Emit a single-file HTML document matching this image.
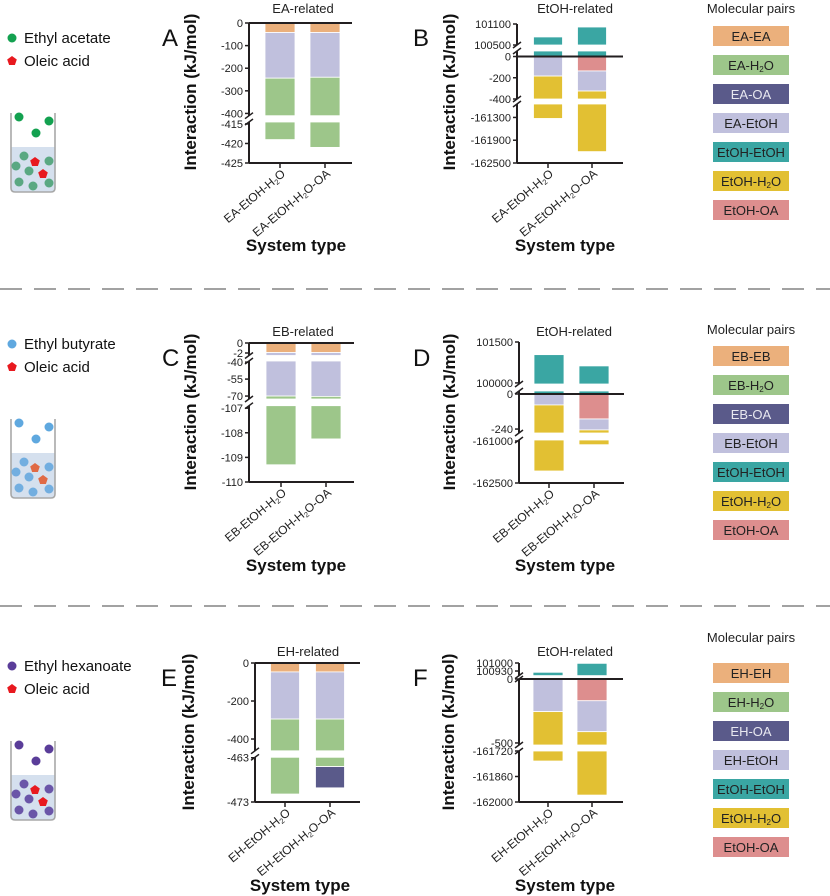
<!DOCTYPE html>
<html><head><meta charset="utf-8"><style>
body{margin:0;background:#fff}
svg{display:block;font-family:"Liberation Sans",Arial,sans-serif}
</style></head><body>
<svg id="fig" width="830" height="896" viewBox="0 0 830 896" xmlns="http://www.w3.org/2000/svg"></svg>
<script>
// ---------- DATA ----------
const catsA = ['EA-EtOH-H2O','EA-EtOH-H2O-OA'];
const A_EA_EA = [-42,-42];
const A_EA_EtOH = [-202,-198];
const A_EA_H2O = [-175,-181];
const ticksA = [0,-100,-200,-300,-400,-415,-420,-425];

const B_EtOH_EtOH = [100730,101014];
const B_EtOH_OA = [0,-136];
const B_EA_EtOH = [-184,-189];
const B_EtOH_H2O = [-161143,-161875];
const ticksB = [101100,100500,0,-200,-400,-161300,-161900,-162500];

const catsC = ['EB-EtOH-H2O','EB-EtOH-H2O-OA'];
const C_EB_EB = [-1.9,-1.9];
const C_EB_EtOH = [-68.1,-68.4];
const C_EB_H2O = [-39.3,-37.95];
const ticksC = [0,-2,-40,-55,-70,-107,-108,-109,-110];

const D_EtOH_EtOH = [101036,100623];
const D_EtOH_OA = [0,-171];
const D_EB_EtOH = [-75,-75];
const D_EtOH_H2O = [-161996,-160886];
const ticksD = [101500,100000,0,-240,-161000,-162500];

const catsE = ['EH-EtOH-H2O','EH-EtOH-H2O-OA'];
const E_EH_EH = [-47,-47];
const E_EH_EtOH = [-248,-248];
const E_EH_H2O = [-176.2,-170];
const E_EH_OA = [0,-4.8];
const ticksE = [0,-200,-400,-463,-473];

const F_EtOH_EtOH = [100919,100997];
const F_EtOH_OA = [0,-170];
const F_EH_EtOH = [-255,-242];
const F_EtOH_H2O = [-161520,-161550];
const ticksF = [101000,100930,0,-500,-161720,-161860,-162000];

const C_OR='#EBB07C',C_GR='#9DC68A',C_NV='#5A5A8A',C_LV='#C0C0DD',C_TL='#3AA6A3',C_YL='#E2C033',C_RD='#DD8E8E';

const NS='http://www.w3.org/2000/svg';
const svg=document.getElementById('fig');
function mk(tag,attrs,parent){const e=document.createElementNS(NS,tag);for(const k in attrs)e.setAttribute(k,attrs[k]);(parent||svg).appendChild(e);return e;}
function subText(el,str){ // H2O subscript
  const parts=str.split('H2O');
  parts.forEach((p,i)=>{
    if(p){const t=document.createElementNS(NS,'tspan');t.textContent=p;el.appendChild(t);}
    if(i<parts.length-1){
      const h=document.createElementNS(NS,'tspan');h.textContent='H';el.appendChild(h);
      const s=document.createElementNS(NS,'tspan');s.setAttribute('font-size','0.62em');s.setAttribute('dy','2');s.textContent='2';el.appendChild(s);
      const o=document.createElementNS(NS,'tspan');o.setAttribute('dy','-2');o.textContent='O';el.appendChild(o);
    }
  });
}

function panel(cfg){
  const g=mk('g',{});
  
  
  const segs=cfg.segs;
  function yOf(v){
    for(const s of segs){ if(v>=s.lo-1e-6 && v<=s.hi+1e-6) return s.top+(s.hi-v)/(s.hi-s.lo)*(s.bot-s.top); }
    return null;
  }
  // bars
  cfg.cats.forEach((c,ci)=>{
    let pos=0,neg=0;
    cfg.series.forEach(se=>{
      const v=se.vals[ci]; if(!v) return;
      let a,b;
      if(v>0){b=pos;a=pos+v;pos=a;} else {a=neg;b=neg+v;neg=b;}
      segs.forEach(s=>{
        const hi=Math.min(a,s.hi),lo=Math.max(b,s.lo);
        if(hi>lo){
          const y1=s.top+(s.hi-hi)/(s.hi-s.lo)*(s.bot-s.top);
          const y2=s.top+(s.hi-lo)/(s.hi-s.lo)*(s.bot-s.top);
          const r=mk('rect',{x:cfg.centers[ci]-cfg.bw/2,y:y1,width:cfg.bw,height:Math.max(0.5,y2-y1),fill:se.color,stroke:'#fff','stroke-width':0.8},g);
          
          
        }
      });
    });
  });
  const ax=cfg.ax, col='#231f20';
  // axis segments
  segs.forEach((s,i)=>{
    mk('line',{x1:ax,y1:s.top,x2:ax,y2:s.bot,stroke:col,'stroke-width':2},g);
    if(i<segs.length-1){
      const y1=s.bot,y2=segs[i+1].top;
      mk('line',{x1:ax-4,y1:y1+3,x2:ax+4,y2:y1-3,stroke:col,'stroke-width':1.5},g);
      mk('line',{x1:ax-4,y1:y2+3,x2:ax+4,y2:y2-3,stroke:col,'stroke-width':1.5},g);
    }
  });
  const xb=segs[segs.length-1].bot;
  const xa=mk('line',{x1:ax,y1:xb,x2:cfg.xEnd,y2:xb,stroke:col,'stroke-width':2},g);
  
  const y0=yOf(0);
  const zl=mk('line',{x1:ax,y1:y0,x2:cfg.xEnd,y2:y0,stroke:col,'stroke-width':2},g);
  
  // ticks
  cfg.ticks.forEach(t=>{
    const y=yOf(t); if(y===null) return;
    mk('line',{x1:ax-4,y1:y,x2:ax,y2:y,stroke:col,'stroke-width':1.5},g);
    const tx=mk('text',{x:ax-6,y:y+4,'font-size':11,'text-anchor':'end',fill:'#222'},g);
    tx.textContent=String(t);
    
    
  });
  cfg.cats.forEach((c,ci)=>{
    const cx=cfg.centers[ci];
    mk('line',{x1:cx,y1:xb,x2:cx,y2:xb+5,stroke:col,'stroke-width':1.5},g);
    const tx=mk('text',{'font-size':12,'text-anchor':'end',fill:'#222',transform:`translate(${cx+6},${xb+12}) rotate(-40)`},g);
    subText(tx,c);
    
    
  });
  // titles
  const tt=mk('text',{x:cfg.titleX,y:cfg.titleY,'font-size':13,'text-anchor':'middle',fill:'#222'},g);
  tt.textContent=cfg.title;
  
  const yt=mk('text',{'font-size':17,'font-weight':'bold','text-anchor':'middle',fill:'#111',transform:`translate(${cfg.ytX},${cfg.ytY}) rotate(-90)`},g);
  yt.textContent='Interaction (kJ/mol)';
  
  const xt=mk('text',{x:cfg.xtX,y:cfg.xtY,'font-size':17,'font-weight':'bold','text-anchor':'middle',fill:'#111'},g);
  xt.textContent='System type';
  
  const lt=mk('text',{x:cfg.letX,y:cfg.letY,'font-size':24,fill:'#111'},g);
  lt.textContent=cfg.letter;
  
}

// Panel A
panel({name:'panel-a',letter:'A',letX:162,letY:46,title:'EA-related',titleX:303,titleY:13,ytX:196,ytY:92,xtX:296,xtY:251,
  ax:249,xEnd:352,centers:[280,325],bw:30,ticks:ticksA,cats:catsA,
  segs:[{lo:-410,hi:0,top:23,bot:115.7},{lo:-425,hi:-414.5,top:122,bot:163}],
  series:[{key:'ea-ea',vals:A_EA_EA,color:C_OR},{key:'ea-etoh',vals:A_EA_EtOH,color:C_LV},{key:'ea-h2o',vals:A_EA_H2O,color:C_GR}]});
// Panel B
panel({name:'panel-b',letter:'B',letX:413,letY:46,title:'EtOH-related',titleX:575,titleY:13,ytX:455,ytY:92,xtX:565,xtY:251,
  ax:517,xEnd:623,centers:[548,592],bw:29,ticks:ticksB,cats:catsA,
  segs:[{lo:100500,hi:101100,top:24,bot:45},{lo:-400,hi:52,top:51,bot:99},{lo:-162500,hi:-160946,top:104,bot:163}],
  series:[{key:'etoh-etoh',vals:B_EtOH_EtOH,color:C_TL},{key:'etoh-oa',vals:B_EtOH_OA,color:C_RD},{key:'ea-etoh',vals:B_EA_EtOH,color:C_LV},{key:'etoh-h2o',vals:B_EtOH_H2O,color:C_YL}]});
// Panel C
panel({name:'panel-c',letter:'C',letX:162,letY:366,title:'EB-related',titleX:303,titleY:336,ytX:196,ytY:412,xtX:296,xtY:571,
  ax:249,xEnd:354,centers:[281,326],bw:30,ticks:ticksC,cats:catsC,
  segs:[{lo:-2.5,hi:0,top:343,bot:355.5},{lo:-72.6,hi:-39,top:361,bot:399},{lo:-110,hi:-106.9,top:405.7,bot:482}],
  series:[{key:'eb-eb',vals:C_EB_EB,color:C_OR},{key:'eb-etoh',vals:C_EB_EtOH,color:C_LV},{key:'eb-h2o',vals:C_EB_H2O,color:C_GR}]});
// Panel D
panel({name:'panel-d',letter:'D',letX:413,letY:366,title:'EtOH-related',titleX:574,titleY:336,ytX:455,ytY:412,xtX:565,xtY:571,
  ax:519,xEnd:624,centers:[549,594],bw:30,ticks:ticksD,cats:catsC,
  segs:[{lo:99960,hi:101500,top:342,bot:384},{lo:-267,hi:20.5,top:391,bot:433},{lo:-162500,hi:-160964,top:440,bot:483}],
  series:[{key:'etoh-etoh',vals:D_EtOH_EtOH,color:C_TL},{key:'etoh-oa',vals:D_EtOH_OA,color:C_RD},{key:'eb-etoh',vals:D_EB_EtOH,color:C_LV},{key:'etoh-h2o',vals:D_EtOH_H2O,color:C_YL}]});
// Panel E
panel({name:'panel-e',letter:'E',letX:161,letY:686,title:'EH-related',titleX:308,titleY:656,ytX:194,ytY:732,xtX:300,xtY:891,
  ax:255,xEnd:360,centers:[285,330],bw:29,ticks:ticksE,cats:catsE,
  segs:[{lo:-462,hi:0,top:663,bot:750.8},{lo:-473,hi:-462.9,top:757.3,bot:802}],
  series:[{key:'eh-eh',vals:E_EH_EH,color:C_OR},{key:'eh-etoh',vals:E_EH_EtOH,color:C_LV},{key:'eh-h2o',vals:E_EH_H2O,color:C_GR},{key:'eh-oa',vals:E_EH_OA,color:C_NV}]});
// Panel F
panel({name:'panel-f',letter:'F',letX:413,letY:686,title:'EtOH-related',titleX:575,titleY:656,ytX:454,ytY:732,xtX:565,xtY:891,
  ax:519,xEnd:623,centers:[548,592],bw:30,ticks:ticksF,cats:catsE,
  segs:[{lo:100890,hi:101000,top:663,bot:675.6},{lo:-516,hi:0,top:679,bot:745},{lo:-162000,hi:-161720,top:751,bot:802}],
  series:[{key:'etoh-etoh',vals:F_EtOH_EtOH,color:C_TL},{key:'etoh-oa',vals:F_EtOH_OA,color:C_RD},{key:'eh-etoh',vals:F_EH_EtOH,color:C_LV},{key:'etoh-h2o',vals:F_EtOH_H2O,color:C_YL}]});

// Legends
const legPrefix=['EA','EB','EH'];
const legTitleY=[13,334,642];
const legTop=[26,346,663];
const legColors=[C_OR,C_GR,C_NV,C_LV,C_TL,C_YL,C_RD];
legPrefix.forEach((p,ri)=>{
  const names=[p+'-'+p,p+'-H2O',p+'-OA',p+'-EtOH','EtOH-EtOH','EtOH-H2O','EtOH-OA'];
  const t=mk('text',{x:751,y:legTitleY[ri],'font-size':13,'text-anchor':'middle',fill:'#222'});
  t.textContent='Molecular pairs';
  
  names.forEach((n,i)=>{
    const y=legTop[ri]+i*29;
    const r=mk('rect',{x:713,y:y,width:76,height:20,fill:legColors[i]});
    
    const tx=mk('text',{x:751,y:y+15,'font-size':13,'text-anchor':'middle',fill:i===2?'#e8e8f0':'#222'});
    subText(tx,n);
    
  });
});

// Separators
[289,606].forEach(y=>{
  const l=mk('line',{x1:0,y1:y,x2:830,y2:y,stroke:'#444','stroke-width':1,'stroke-dasharray':'22 12'});
  
});

// Left illustrations
const ill=[{off:0,name:'Ethyl acetate',top:'#13a150',bot:'#5aa882',pent:'#e8191f'},
           {off:306,name:'Ethyl butyrate',top:'#5fa8df',bot:'#72aee0',pent:'#e06a45'},
           {off:628,name:'Ethyl hexanoate',top:'#5a3d99',bot:'#6a55a8',pent:'#e8191f'}];
function pent(cx,cy,r,fill){
  let pts=[];for(let k=0;k<5;k++){const a=-Math.PI/2+k*2*Math.PI/5;pts.push((cx+r*Math.cos(a)).toFixed(1)+','+(cy+r*Math.sin(a)).toFixed(1));}
  return mk('polygon',{points:pts.join(' '),fill:fill});
}
ill.forEach(d=>{
  const o=d.off;
  mk('circle',{cx:12,cy:38+o,r:4.5,fill:d.top});
  const t1=mk('text',{x:24,y:43+o,'font-size':15,fill:'#111'});t1.textContent=d.name;
  
  pent(12,61+o,5,'#e8191f');
  const t2=mk('text',{x:24,y:66+o,'font-size':15,fill:'#111'});t2.textContent='Oleic acid';
  
  mk('path',{d:`M11 ${147+o} L11 ${188+o} Q11 ${192+o} 15 ${192+o} L51 ${192+o} Q55 ${192+o} 55 ${188+o} L55 ${147+o} Z`,fill:'#d5e0ee'});
  mk('path',{d:`M11 ${113+o} L11 ${188+o} Q11 ${192+o} 15 ${192+o} L51 ${192+o} Q55 ${192+o} 55 ${188+o} L55 ${113+o}`,fill:'none',stroke:'#a8a8a8','stroke-width':1.6});
  [[19,117],[49,121],[36,133]].forEach(p=>mk('circle',{cx:p[0],cy:p[1]+o,r:4.5,fill:d.top}));
  [[24,156],[16,166],[29,171],[19,182],[33,186],[49,183],[49,161]].forEach(p=>mk('circle',{cx:p[0],cy:p[1]+o,r:4.5,fill:d.bot}));
  pent(35,162+o,5,d.pent);pent(43,174+o,5,d.pent);
});
</script>
</body></html>
